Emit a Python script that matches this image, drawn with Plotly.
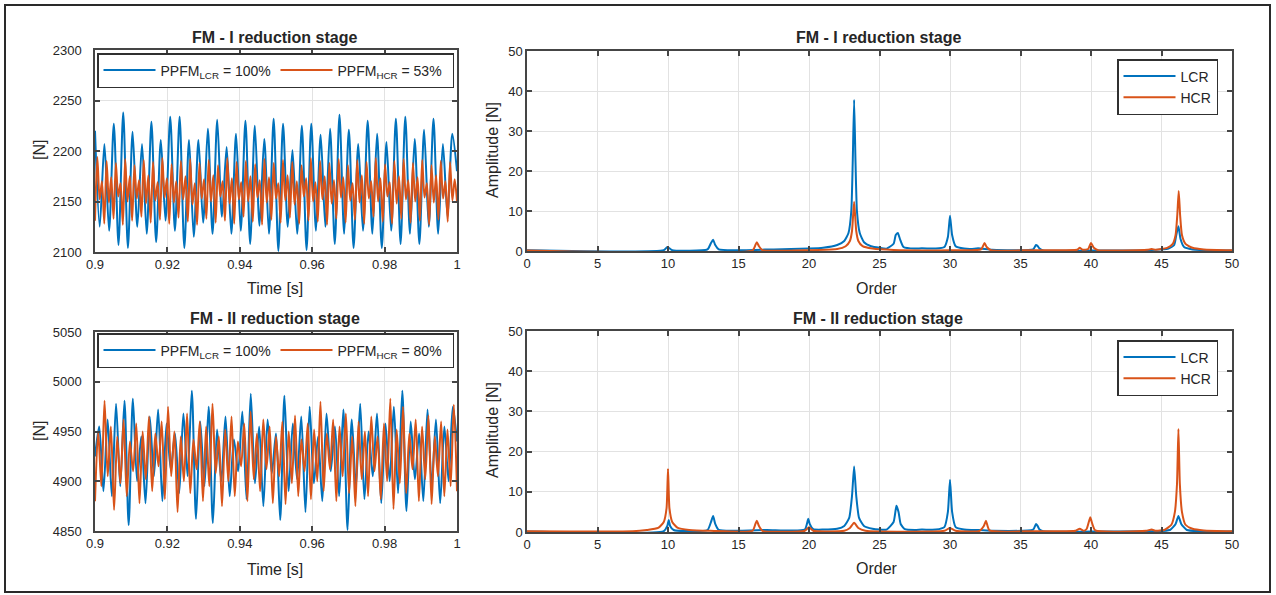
import numpy as np
import plotly.graph_objects as go

W, H = 1276, 595
FONT = "Liberation Sans, Arial, sans-serif"
BLUE = "#0072BD"
ORANGE = "#D95319"
TXT = "#262626"

# ---------------- time signals (extrema, evenly sampled over 0.9..1.0 s) ----------------
t_start, t_end = 0.9, 1.0

# FM - I reduction stage, low contact ratio gear (LCR)
force_lcr_1 = [
    2220, 2125, 2207, 2121, 2227, 2107, 2238, 2104, 2219, 2125,
    2207, 2118, 2229, 2110, 2211, 2131, 2234, 2121, 2234, 2104,
    2211, 2115, 2211, 2129, 2222, 2118, 2231, 2135, 2204, 2118,
    2217, 2121, 2230, 2108, 2225, 2126, 2212, 2118, 2232, 2101,
    2227, 2125, 2201, 2118, 2225, 2102, 2227, 2121, 2216, 2125,
    2222, 2108, 2236, 2118, 2221, 2104, 2207, 2121, 2230, 2118,
    2217, 2104, 2209, 2121, 2232, 2108, 2234, 2118, 2212, 2108,
    2221, 2125, 2232, 2118, 2207, 2135, 2217, 2180,
]

# FM - I reduction stage, high contact ratio gear (HCR)
force_hcr_1 = [
    2131, 2194, 2152, 2170, 2128, 2190, 2149, 2174, 2133, 2188, 2155, 2168,
    2127, 2192, 2150, 2175, 2131, 2186, 2153, 2171, 2135, 2191, 2148, 2176,
    2129, 2189, 2151, 2169, 2132, 2193, 2154, 2173, 2128, 2187, 2149, 2170,
    2134, 2190, 2152, 2175, 2130, 2192, 2147, 2168, 2127, 2188, 2153, 2172,
    2133, 2191, 2150, 2176, 2129, 2186, 2155, 2170, 2131, 2193, 2148, 2173,
    2128, 2189, 2152, 2169, 2135, 2190, 2150, 2175, 2130, 2187, 2154, 2171,
    2127, 2192, 2149, 2174, 2132, 2188, 2153, 2168, 2129, 2191, 2151, 2176,
    2134, 2189, 2147, 2170, 2128, 2186, 2155, 2173, 2131, 2193, 2150, 2169,
    2130, 2190, 2152, 2175, 2127, 2188, 2148, 2171, 2133, 2192, 2154, 2174,
    2129, 2186, 2151, 2168, 2132, 2191, 2149, 2176, 2128, 2189, 2153, 2170,
    2135, 2193, 2150, 2173, 2130, 2187, 2155, 2169, 2128, 2190, 2148, 2175,
    2133, 2192, 2152, 2171, 2129, 2188, 2150, 2174, 2131, 2191, 2154, 2168,
    2127, 2186, 2149, 2176, 2132, 2190, 2153, 2170, 2130, 2189, 2151, 2172,
    2150,
]

# FM - II reduction stage, LCR
force_lcr_2 = [
    4925, 4955, 4890, 4962, 4885, 4978, 4895, 4981, 4856, 4983,
    4900, 4945, 4878, 4965, 4905, 4972, 4880, 4958, 4912, 4948,
    4888, 4968, 4905, 4991, 4862, 4960, 4895, 4975, 4858, 4952,
    4900, 4965, 4885, 4942, 4910, 4970, 4882, 4988, 4898, 4955,
    4875, 4962, 4908, 4948, 4861, 4986, 4890, 4958, 4902, 4965,
    4869, 4975, 4898, 4945, 4880, 4968, 4910, 4955, 4885, 4972,
    4851, 4962, 4895, 4978, 4882, 4950, 4905, 4968, 4878, 4958,
    4900, 4975, 4888, 4991, 4870, 4960, 4902, 4948, 4880, 4972,
    4895, 4962, 4878, 4955, 4900, 4975, 4940,
]

# FM - II reduction stage, HCR
force_hcr_2 = [
    4880, 4950, 4895, 4981, 4905, 4955, 4871, 4945, 4898, 4962,
    4885, 4940, 4910, 4958, 4878, 4950, 4902, 4965, 4890, 4948,
    4915, 4960, 4882, 4975, 4905, 4950, 4869, 4945, 4900, 4968,
    4888, 4942, 4912, 4960, 4880, 4955, 4895, 4978, 4908, 4945,
    4875, 4952, 4900, 4965, 4885, 4940, 4915, 4958, 4880, 4970,
    4902, 4948, 4890, 4962, 4912, 4955, 4878, 4945, 4905, 4960,
    4877, 4950, 4898, 4966, 4885, 4942, 4910, 4958, 4882, 4952,
    4900, 4980, 4890, 4948, 4912, 4962, 4880, 4955, 4905, 4968,
    4888, 4945, 4875, 4960, 4902, 4950, 4885, 4965, 4910, 4945,
    4882, 4958, 4900, 4983, 4872, 4952, 4898, 4975, 4888, 4948,
    4912, 4962, 4880, 4955, 4902, 4966, 4877, 4945, 4905, 4960,
    4885, 4952, 4895, 4977, 4890,
]

# ---------------- order spectra: (order, amplitude [N]) ----------------
spec_lcr_1 = [
    (0, 0.2), (9.7, 0.2), (9.95, 1.0), (10.05, 0.8), (10.3, 0.2),
    (12.8, 0.4), (13.05, 2.0), (13.2, 2.8), (13.35, 1.5), (13.6, 0.4),
    (17.5, 0.4), (20, 0.6), (21, 0.8), (22, 1.5), (22.5, 2.5), (22.8, 4.5),
    (23.0, 10), (23.1, 22), (23.2, 37.8), (23.3, 22), (23.4, 10), (23.6, 4.5),
    (23.9, 2.2), (24.4, 1.2), (25, 0.8), (25.5, 0.6), (26.0, 1.8), (26.15, 4.0),
    (26.3, 4.5), (26.45, 3.0), (26.7, 1.0), (27.5, 0.6), (28, 0.7), (29, 0.6),
    (29.6, 1.0), (29.85, 3.5), (30.0, 8.8), (30.15, 4.0), (30.4, 1.2), (31, 0.6),
    (31.5, 0.5), (32, 0.7), (33, 0.3), (35.9, 0.4), (36.1, 1.5), (36.2, 1.3),
    (36.35, 0.6), (36.6, 0.15), (40, 0.1), (44, 0.2), (45.5, 0.6), (45.9, 1.5),
    (46.05, 4.0), (46.2, 6.2), (46.35, 3.0), (46.6, 1.0), (47.2, 0.4), (48, 0.2),
    (50, 0.1),
]
spec_hcr_1 = [
    (0, 0.15), (16.0, 0.15), (16.2, 1.5), (16.3, 2.2), (16.45, 1.2), (16.7, 0.2),
    (20, 0.2), (22, 0.5), (22.6, 1.2), (22.9, 2.5), (23.05, 5.0), (23.2, 12.3),
    (23.35, 5.0), (23.5, 2.5), (23.8, 1.2), (24.5, 0.6), (26, 0.25), (30, 0.2),
    (32.2, 0.4), (32.45, 2.0), (32.6, 1.0), (32.9, 0.2), (36, 0.2), (39.0, 0.3),
    (39.2, 0.8), (39.4, 0.3), (39.8, 0.5), (40.0, 2.0), (40.2, 0.8), (40.5, 0.2),
    (44.0, 0.3), (44.3, 0.5), (44.6, 0.3), (45.4, 0.8), (45.8, 1.8), (46.0, 4.0),
    (46.12, 9.0), (46.22, 15.0), (46.32, 9.0), (46.45, 4.0), (46.7, 1.8), (47.2, 0.8),
    (48, 0.4), (50, 0.2),
]
spec_lcr_2 = [
    (0, 0.15), (9.7, 0.2), (9.95, 1.5), (10.05, 3.0), (10.15, 1.5), (10.4, 0.5),
    (12.8, 0.5), (13.05, 2.5), (13.2, 4.0), (13.35, 2.0), (13.6, 0.5), (17, 0.5),
    (19.7, 0.6), (19.95, 3.3), (20.05, 2.0), (20.3, 0.7), (21, 0.6), (22, 0.8),
    (22.5, 1.5), (22.85, 3.5), (23.05, 9.0), (23.2, 16.3), (23.35, 9.0), (23.55, 3.5),
    (23.9, 1.5), (24.5, 0.8), (25.5, 0.6), (26.0, 2.5), (26.2, 6.5), (26.35, 5.0),
    (26.5, 2.0), (26.8, 0.7), (27.5, 0.5), (28, 0.6), (29, 0.6), (29.6, 1.2),
    (29.85, 5.0), (30.0, 13.0), (30.15, 5.0), (30.4, 1.2), (31, 0.6), (31.5, 0.5),
    (32, 0.5), (33, 0.3), (35.9, 0.6), (36.1, 2.0), (36.2, 1.6), (36.35, 0.6),
    (36.6, 0.2), (40, 0.1), (44, 0.2), (45.6, 0.5), (46.0, 2.0), (46.2, 4.0),
    (46.4, 2.0), (46.8, 0.5), (48, 0.2), (50, 0.1),
]
spec_hcr_2 = [
    (0, 0.2), (7.5, 0.2), (8.5, 0.5), (9.3, 1.0), (9.7, 2.5), (9.9, 6.0),
    (10.0, 15.7), (10.1, 6.0), (10.3, 2.5), (10.7, 1.0), (11.5, 0.5), (13, 0.3),
    (16.0, 0.3), (16.2, 2.0), (16.3, 2.8), (16.45, 1.5), (16.7, 0.3), (19.7, 0.3),
    (20.0, 1.2), (20.3, 0.3), (22.5, 0.3), (22.9, 1.0), (23.2, 2.3), (23.5, 1.0),
    (24, 0.3), (29.6, 0.3), (30.0, 1.0), (30.4, 0.3), (32.1, 0.3), (32.4, 1.5),
    (32.55, 2.8), (32.8, 0.4), (36, 0.2), (38.9, 0.3), (39.2, 0.8), (39.5, 0.3),
    (39.7, 0.8), (39.95, 3.7), (40.05, 2.5), (40.3, 0.4), (43.9, 0.3), (44.3, 0.6),
    (44.6, 0.3), (45.2, 0.5), (45.7, 1.8), (45.95, 5.0), (46.1, 12.0), (46.2, 25.6),
    (46.3, 12.0), (46.45, 5.0), (46.7, 1.8), (47.2, 0.8), (48, 0.4), (50, 0.2),
]

time_ticks = [0.9, 0.92, 0.94, 0.96, 0.98, 1.0]
time_ticktext = ["0.9", "0.92", "0.94", "0.96", "0.98", "1"]

# ---------------- figure ----------------
fig = go.Figure()


def add_time(values, color, name, xa, ya, legend):
    t = np.linspace(t_start, t_end, len(values))
    fig.add_trace(go.Scatter(
        x=t, y=values, mode="lines", name=name,
        line=dict(color=color, width=2, shape="spline", smoothing=0.8),
        xaxis=xa, yaxis=ya, legend=legend,
    ))


def add_spec(pairs, color, name, xa, ya, legend):
    o, a = zip(*pairs)
    fig.add_trace(go.Scatter(
        x=o, y=a, mode="lines", name=name,
        line=dict(color=color, width=2, shape="spline", smoothing=0.5),
        xaxis=xa, yaxis=ya, legend=legend,
    ))


add_time(force_lcr_1, BLUE, "PPFM<sub>LCR</sub> = 100%", "x", "y", "legend")
add_time(force_hcr_1, ORANGE, "PPFM<sub>HCR</sub> = 53%", "x", "y", "legend")
add_spec(spec_lcr_1, BLUE, "LCR", "x2", "y2", "legend2")
add_spec(spec_hcr_1, ORANGE, "HCR", "x2", "y2", "legend2")
add_time(force_lcr_2, BLUE, "PPFM<sub>LCR</sub> = 100%", "x3", "y3", "legend3")
add_time(force_hcr_2, ORANGE, "PPFM<sub>HCR</sub> = 80%", "x3", "y3", "legend3")
add_spec(spec_lcr_2, BLUE, "LCR", "x4", "y4", "legend4")
add_spec(spec_hcr_2, ORANGE, "HCR", "x4", "y4", "legend4")


def px(p):
    return p / W


def py(p):
    return 1 - p / H


axis_style = dict(
    showline=True, linecolor="#454545", linewidth=1.5, mirror="allticks",
    ticks="inside", ticklen=5, tickcolor="#454545", tickwidth=1.5,
    showgrid=True, gridcolor="#e2e2e2", gridwidth=1, zeroline=False,
    tickfont=dict(family=FONT, size=13, color=TXT), automargin=False,
)

left_x = [px(95), px(457)]
right_x = [px(527), px(1232)]

fig.update_layout(
    width=W, height=H,
    margin=dict(l=0, r=0, t=0, b=0),
    paper_bgcolor="white", plot_bgcolor="white",
    font=dict(family=FONT, color=TXT),
    xaxis=dict(domain=left_x, range=[0.9, 1.0], tickvals=time_ticks,
               ticktext=time_ticktext, anchor="y", **axis_style),
    yaxis=dict(domain=[py(252), py(50)], range=[2100, 2300], dtick=50,
               anchor="x", ticklabelstandoff=9, **axis_style),
    xaxis2=dict(domain=right_x, range=[0, 50], dtick=5, anchor="y2", **axis_style),
    yaxis2=dict(domain=[py(251), py(51)], range=[0, 50], dtick=10,
                anchor="x2", **axis_style),
    xaxis3=dict(domain=left_x, range=[0.9, 1.0], tickvals=time_ticks,
                ticktext=time_ticktext, anchor="y3", **axis_style),
    yaxis3=dict(domain=[py(531), py(332)], range=[4850, 5050], dtick=50,
                anchor="x3", ticklabelstandoff=9, **axis_style),
    xaxis4=dict(domain=right_x, range=[0, 50], dtick=5, anchor="y4", **axis_style),
    yaxis4=dict(domain=[py(532), py(331)], range=[0, 50], dtick=10,
                anchor="x4", **axis_style),
)

legend_common = dict(
    bgcolor="white", bordercolor="#303030", borderwidth=1.5,
    itemwidth=52, tracegroupgap=0,
    font=dict(family=FONT, size=14, color=TXT),
)
fig.update_layout(
    legend=dict(x=px(97), y=py(53), xanchor="left", yanchor="top",
                orientation="h", entrywidth=110, entrywidthmode="pixels",
                **legend_common),
    legend3=dict(x=px(97), y=py(333), xanchor="left", yanchor="top",
                 orientation="h", entrywidth=110, entrywidthmode="pixels",
                 **legend_common),
    legend2=dict(x=px(1218), y=py(59), xanchor="right", yanchor="top",
                 orientation="v", **legend_common),
    legend4=dict(x=px(1218), y=py(340), xanchor="right", yanchor="top",
                 orientation="v", **legend_common),
)

annotations = []
for text, x, y in [
    ("<b>FM - I reduction stage</b>", 274, 37),
    ("<b>FM - II reduction stage</b>", 275, 318),
    ("<b>FM - I reduction stage</b>", 878, 37),
    ("<b>FM - II reduction stage</b>", 878, 318),
]:
    annotations.append(dict(text=text, x=px(x), y=py(y), xref="paper", yref="paper",
                            showarrow=False, xanchor="center", yanchor="middle",
                            font=dict(family=FONT, size=16, color=TXT)))
for text, x, y in [
    ("Time [s]", 275, 288), ("Time [s]", 275, 569),
    ("Order", 877, 288), ("Order", 877, 568),
]:
    annotations.append(dict(text=text, x=px(x), y=py(y), xref="paper", yref="paper",
                            showarrow=False, xanchor="center", yanchor="middle",
                            font=dict(family=FONT, size=16, color=TXT)))
for text, x, y in [
    ("[N]", 39, 150), ("[N]", 39, 431),
    ("Amplitude [N]", 492, 150), ("Amplitude [N]", 492, 430),
]:
    annotations.append(dict(text=text, x=px(x), y=py(y), xref="paper", yref="paper",
                            showarrow=False, xanchor="center", yanchor="middle",
                            textangle=-90, font=dict(family=FONT, size=16, color=TXT)))
fig.update_layout(annotations=annotations)

# outer frame around the whole figure
fig.add_shape(type="rect", xref="paper", yref="paper",
              x0=px(5), x1=px(1270), y0=py(592), y1=py(5),
              line=dict(color="#2a2a2a", width=2), fillcolor="rgba(0,0,0,0)")

fig.write_html("out.html")
